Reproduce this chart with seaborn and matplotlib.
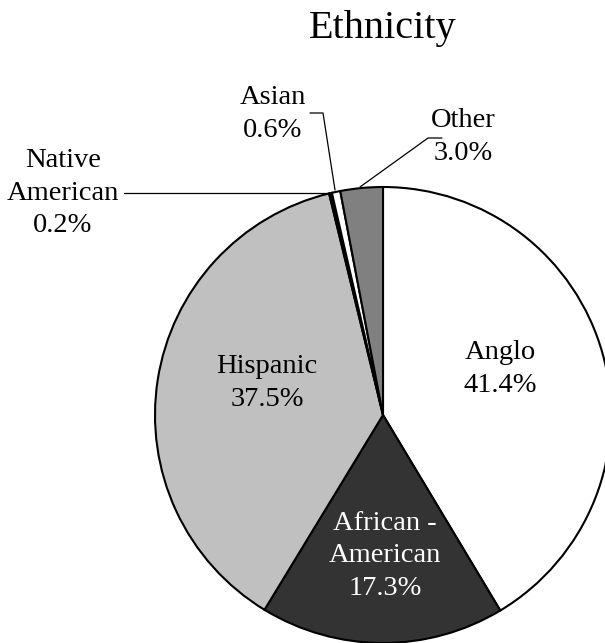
import matplotlib
matplotlib.use('Agg')
import matplotlib.pyplot as plt
import seaborn as sns

# data
groups = ['Anglo', 'African -\nAmerican', 'Hispanic', 'Native\nAmerican', 'Asian', 'Other']
shares = [41.4, 17.3, 37.5, 0.2, 0.6, 3.0]
colors = ['#ffffff', '#333333', '#c0c0c0', '#000000', '#ffffff', '#808080']
text_colors = ['black', 'white', 'black', 'black', 'black', 'black']

W, H = 605, 643

sns.set_theme(style='white')
plt.rcParams['font.family'] = ['Liberation Serif', 'DejaVu Serif']
plt.rcParams['text.color'] = 'black'

fig = plt.figure(figsize=(W / 100, H / 100), dpi=100)
ax = fig.add_axes([0, 0, 1, 1])


def py(y):
    # pixel row -> data y
    return H - y


cx, cy, r = 383, py(415), 228
ax.pie(shares, colors=colors, startangle=90, counterclock=False,
       center=(cx, cy), radius=r,
       wedgeprops={'edgecolor': 'black', 'linewidth': 1.5})

ax.set_xlim(0, W)
ax.set_ylim(0, H)
ax.set_aspect('equal')
ax.axis('off')

# label block centres (pixels)
label_pos = [(500, 369), (385, 556), (267, 383), (63, 193), (273, 114), (463, 137)]
for name, val, (x, y), tc in zip(groups, shares, label_pos, text_colors):
    ax.text(x, py(y), f'{name}\n{val:.1f}%', ha='center', va='center',
            fontsize=20.5, color=tc, linespacing=1.4)

# leader lines
lines = [
    [(124, 193), (331, 193)],
    [(310, 113), (323, 113), (335, 190)],
    [(442, 138), (428, 138), (360, 187)],
]
for pts in lines:
    xs = [p[0] for p in pts]
    ys = [py(p[1]) for p in pts]
    ax.plot(xs, ys, color='black', linewidth=0.9)

ax.text(383, py(38), 'Ethnicity', ha='center', va='baseline', fontsize=29)

fig.savefig('out.png', dpi=100)
